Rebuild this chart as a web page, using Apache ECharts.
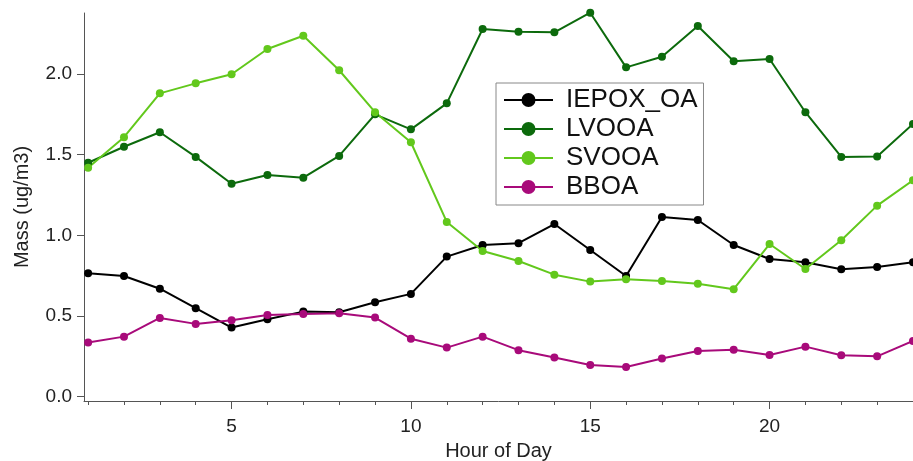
<!DOCTYPE html>
<html>
<head>
<meta charset="utf-8">
<script src="https://cdn.jsdelivr.net/npm/echarts@6/dist/echarts.min.js"></script>
<style>
  html, body { margin: 0; padding: 0; background: #fff; }
  #chart { width: 913px; height: 461px; }
</style>
</head>
<body>
<div id="chart"></div>
<script>
// Diurnal profiles of OA factors (mass vs hour of day)
const hours = [1,2,3,4,5,6,7,8,9,10,11,12,13,14,15,16,17,18,19,20,21,22,23,24];
const iepoxOA = [0.765,0.748,0.669,0.548,0.428,0.480,0.527,0.523,0.585,0.637,0.868,0.940,0.951,1.070,0.909,0.748,1.114,1.095,0.940,0.853,0.833,0.790,0.804,0.833];
const lvooa   = [1.450,1.549,1.639,1.486,1.320,1.374,1.357,1.492,1.750,1.657,1.818,2.279,2.262,2.258,2.380,2.041,2.107,2.297,2.079,2.093,1.763,1.486,1.488,1.690];
const svooa   = [1.419,1.608,1.880,1.942,1.998,2.155,2.237,2.023,1.763,1.577,1.083,0.903,0.841,0.756,0.713,0.728,0.717,0.700,0.666,0.946,0.791,0.969,1.184,1.341];
const bboa    = [0.335,0.372,0.488,0.451,0.473,0.506,0.513,0.517,0.490,0.359,0.304,0.372,0.288,0.242,0.196,0.184,0.236,0.283,0.291,0.258,0.310,0.257,0.250,0.345];

const yTicks = [0, 0.5, 1.0, 1.5, 2.0];
const xMajorTicks = [5, 10, 15, 20];

const seriesDefs = [
  { name: 'IEPOX_OA', values: iepoxOA, color: '#000000' },
  { name: 'LVOOA',    values: lvooa,   color: '#0c6a0c' },
  { name: 'SVOOA',    values: svooa,   color: '#62c81c' },
  { name: 'BBOA',     values: bboa,    color: '#a80a7a' }
];

const font = '"Liberation Sans", Arial, sans-serif';
const axisColor = '#555555';

const chart = echarts.init(document.getElementById('chart'), null, { renderer: 'canvas' });

chart.setOption({
  animation: false,
  backgroundColor: '#ffffff',
  grid: { left: 84, right: 0, top: 13, bottom: 60, containLabel: false, outerBoundsMode: 'none' },
  legend: {
    left: 496, top: 83,
    orient: 'vertical',
    padding: [2.5, 6, 3.5, 7],
    itemGap: 0,
    itemWidth: 49,
    itemHeight: 17.5,
    borderColor: '#888888',
    borderWidth: 1,
    backgroundColor: '#ffffff',
    textStyle: { fontFamily: font, fontSize: 26, color: '#111', lineHeight: 29, padding: [0, 0, 0, 8] },
    data: seriesDefs.map(s => s.name)
  },
  xAxis: [
    {
      type: 'value',
      min: 0.885, max: 24,
      name: 'Hour of Day',
      nameLocation: 'middle',
      nameGap: 40,
      nameTextStyle: { fontFamily: font, fontSize: 20, color: '#222' },
      axisLine: { onZero: false, lineStyle: { color: axisColor, width: 1 } },
      axisTick: { show: true, length: 4, customValues: hours, lineStyle: { color: axisColor } },
      axisLabel: { customValues: xMajorTicks, margin: 16, fontFamily: font, fontSize: 19, color: '#222' },
      splitLine: { show: false }
    },
    {
      type: 'value',
      min: 0.885, max: 24,
      position: 'bottom',
      axisLine: { show: false, onZero: false },
      axisTick: { show: true, length: 8, customValues: xMajorTicks, lineStyle: { color: axisColor } },
      axisLabel: { show: false },
      splitLine: { show: false }
    }
  ],
  yAxis: {
    type: 'value',
    min: -0.027, max: 2.378,
    name: 'Mass (ug/m3)',
    nameLocation: 'middle',
    nameGap: 52,
    nameTextStyle: { fontFamily: font, fontSize: 20, color: '#222' },
    axisLine: { show: true, lineStyle: { color: axisColor, width: 1 } },
    axisTick: { show: true, length: 7, customValues: yTicks, lineStyle: { color: axisColor } },
    axisLabel: {
      customValues: yTicks, margin: 12, fontFamily: font, fontSize: 19, color: '#222',
      formatter: v => v.toFixed(1)
    },
    splitLine: { show: false }
  },
  series: seriesDefs.map(s => ({
    name: s.name,
    type: 'line',
    xAxisIndex: 0,
    data: hours.map((h, i) => [h, s.values[i]]),
    symbol: 'circle',
    symbolSize: 8,
    showSymbol: true,
    clip: false,
    lineStyle: { color: s.color, width: 2 },
    itemStyle: { color: s.color },
    emphasis: { disabled: true }
  }))
});
</script>
</body>
</html>
